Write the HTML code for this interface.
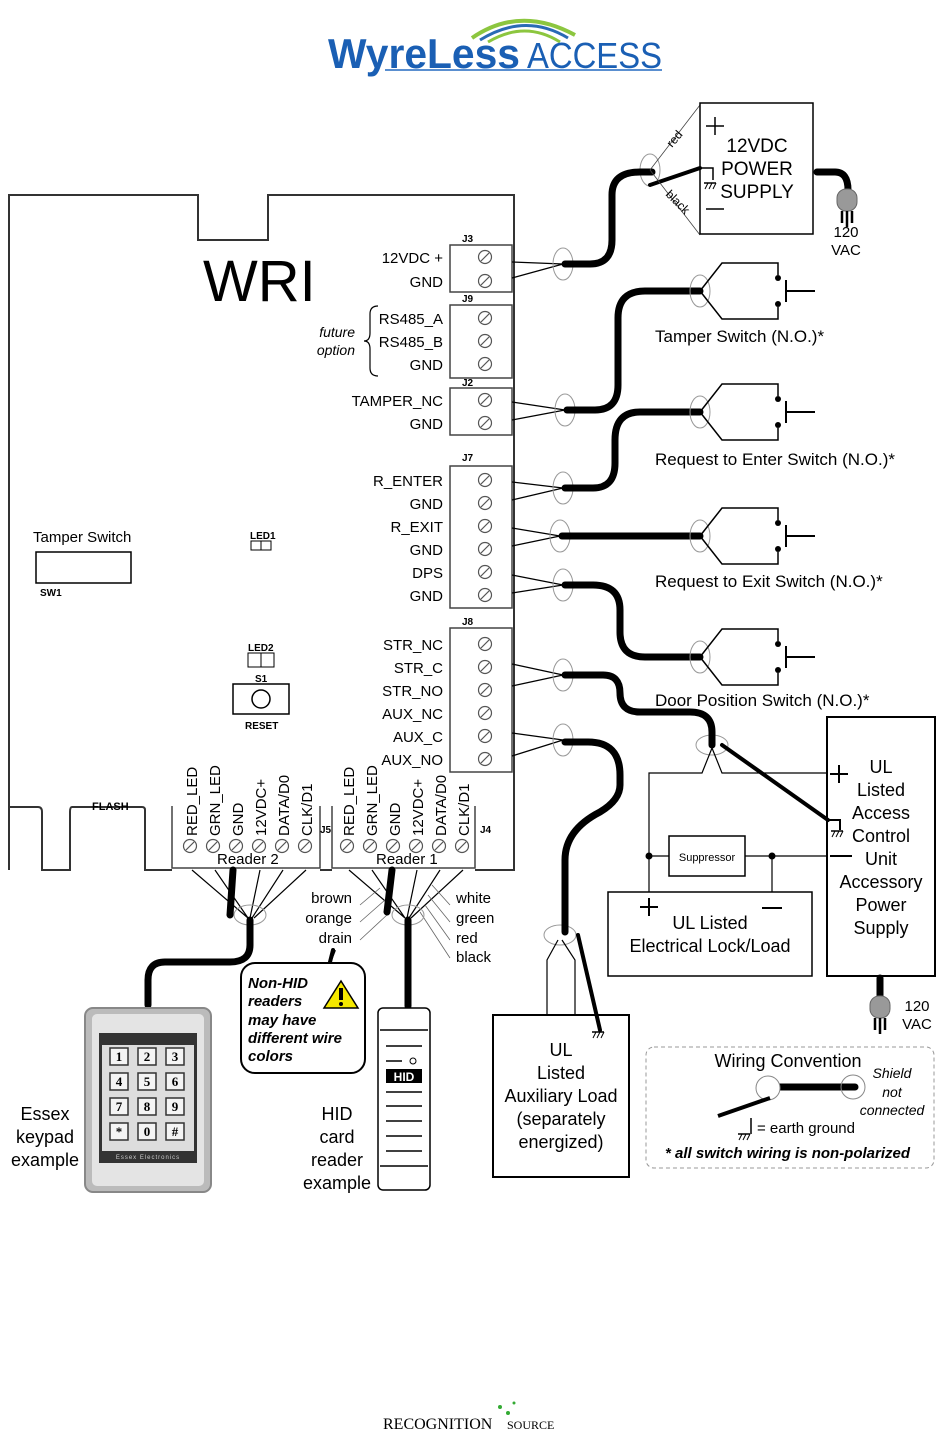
<!DOCTYPE html>
<html><head><meta charset="utf-8"><style>
html,body{margin:0;padding:0;background:#fff}
svg{display:block}
text{font-family:"Liberation Sans",Arial,sans-serif;fill:#000}
</style></head><body>
<svg width="937" height="1433" viewBox="0 0 937 1433" xmlns="http://www.w3.org/2000/svg">
<defs>
<g id="scr"><circle r="6.5" fill="#fff" stroke="#555" stroke-width="1.2"/><line x1="-4" y1="4" x2="4" y2="-4" stroke="#555" stroke-width="1.2"/></g>
<g id="sw">
<ellipse cx="0" cy="0" rx="10" ry="16" fill="none" stroke="#999" stroke-width="1"/>
<polyline points="0,0 22,-28 78,-28 78,-16" fill="none" stroke="#000" stroke-width="1.5"/>
<polyline points="0,0 22,28 78,28 78,16" fill="none" stroke="#000" stroke-width="1.5"/>
<circle cx="78" cy="-13" r="3" fill="#000"/><circle cx="78" cy="13" r="3" fill="#000"/>
<line x1="86" y1="-11" x2="86" y2="11" stroke="#000" stroke-width="2"/>
<line x1="86" y1="0" x2="115" y2="0" stroke="#000" stroke-width="2"/>
</g>
<g id="plug"><rect x="-10" y="-16" width="20" height="22" rx="9" fill="#999" stroke="#666"/><line x1="-5" y1="6" x2="-5" y2="18" stroke="#000" stroke-width="2.5"/><line x1="5" y1="6" x2="5" y2="18" stroke="#000" stroke-width="2.5"/><line x1="0" y1="6" x2="0" y2="22" stroke="#000" stroke-width="2.5"/></g>
<g id="gnd"><line x1="0" y1="0" x2="12" y2="0" stroke="#000" stroke-width="1.5"/><line x1="1" y1="6" x2="4" y2="0" stroke="#000"/><line x1="5" y1="6" x2="8" y2="0" stroke="#000"/><line x1="9" y1="6" x2="12" y2="0" stroke="#000"/></g>
</defs>

<!-- Logo -->
<path d="M472,38 Q520,5 575,35" fill="none" stroke="#8cc63f" stroke-width="4"/>
<path d="M480,40 Q525,12 568,38" fill="none" stroke="#2a6ab5" stroke-width="3"/>
<path d="M488,42 Q525,20 560,42" fill="none" stroke="#8cc63f" stroke-width="3"/>
<text x="328" y="68" font-size="42" font-weight="bold" fill="#1a5fb4" style="fill:#1a5fb4" textLength="192" lengthAdjust="spacingAndGlyphs">WyreLess</text>
<text x="527" y="68" font-size="36" style="fill:#1a5fb4" textLength="135" lengthAdjust="spacingAndGlyphs">ACCESS</text>
<line x1="385" y1="70" x2="662" y2="70" stroke="#5a8fd0" stroke-width="2"/>

<!-- Board -->
<path d="M9,870 V195 H198 V240 H268 V195 H514 V870 H475 M320,870 H332 M172,870 H145 V810 Q145,807 142,807 H72 Q70,807 70,812 V870 H42 V812 Q42,807 38,807 H9" fill="none" stroke="#333" stroke-width="2"/>
<text x="203" y="301" font-size="58">WRI</text>
<text x="33" y="542" font-size="15">Tamper Switch</text>
<rect x="36" y="552" width="95" height="31" fill="none" stroke="#000" stroke-width="1.5"/>
<text x="40" y="596" font-size="10" font-weight="bold">SW1</text>
<text x="250" y="539" font-size="10" font-weight="bold">LED1</text>
<rect x="251" y="541" width="20" height="9" fill="none" stroke="#000"/><line x1="261" y1="541" x2="261" y2="550" stroke="#000"/>
<text x="248" y="651" font-size="10" font-weight="bold">LED2</text>
<rect x="248" y="653" width="26" height="14" fill="none" stroke="#000"/><line x1="261" y1="653" x2="261" y2="667" stroke="#000"/>
<text x="255" y="682" font-size="10" font-weight="bold">S1</text>
<rect x="233" y="684" width="56" height="30" fill="none" stroke="#000" stroke-width="1.5"/>
<circle cx="261" cy="699" r="9" fill="none" stroke="#000" stroke-width="1.5"/>
<text x="245" y="729" font-size="10" font-weight="bold">RESET</text>
<text x="92" y="810" font-size="11" font-weight="bold">FLASH</text>

<!-- Terminal blocks -->
<g stroke="#444" stroke-width="1.5" fill="#fff">
<rect x="450" y="245" width="62" height="47"/>
<rect x="450" y="305" width="62" height="73"/>
<rect x="450" y="388" width="62" height="47"/>
<rect x="450" y="466" width="62" height="142"/>
<rect x="450" y="628" width="62" height="144"/>
</g>
<g font-size="10" font-weight="bold">
<text x="462" y="242">J3</text><text x="462" y="302">J9</text><text x="462" y="386">J2</text><text x="462" y="461">J7</text><text x="462" y="625">J8</text>
</g>
<g>
<use href="#scr" x="485" y="257"/><use href="#scr" x="485" y="281"/>
<use href="#scr" x="485" y="318"/><use href="#scr" x="485" y="341"/><use href="#scr" x="485" y="364"/>
<use href="#scr" x="485" y="400"/><use href="#scr" x="485" y="423"/>
<use href="#scr" x="485" y="480"/><use href="#scr" x="485" y="503"/><use href="#scr" x="485" y="526"/><use href="#scr" x="485" y="549"/><use href="#scr" x="485" y="572"/><use href="#scr" x="485" y="595"/>
<use href="#scr" x="485" y="644"/><use href="#scr" x="485" y="667"/><use href="#scr" x="485" y="690"/><use href="#scr" x="485" y="713"/><use href="#scr" x="485" y="736"/><use href="#scr" x="485" y="759"/>
</g>
<g font-size="15" text-anchor="end">
<text x="443" y="263">12VDC +</text><text x="443" y="287">GND</text>
<text x="443" y="324">RS485_A</text><text x="443" y="347">RS485_B</text><text x="443" y="370">GND</text>
<text x="443" y="406">TAMPER_NC</text><text x="443" y="429">GND</text>
<text x="443" y="486">R_ENTER</text><text x="443" y="509">GND</text><text x="443" y="532">R_EXIT</text><text x="443" y="555">GND</text><text x="443" y="578">DPS</text><text x="443" y="601">GND</text>
<text x="443" y="650">STR_NC</text><text x="443" y="673">STR_C</text><text x="443" y="696">STR_NO</text><text x="443" y="719">AUX_NC</text><text x="443" y="742">AUX_C</text><text x="443" y="765">AUX_NO</text>
</g>
<path d="M378,306 Q370,306 370,314 V333 Q370,341 364,341 Q370,341 370,349 V368 Q370,376 378,376" fill="none" stroke="#000" stroke-width="1.2"/>
<text x="355" y="337" font-size="14" font-style="italic" text-anchor="end">future</text>
<text x="355" y="355" font-size="14" font-style="italic" text-anchor="end">option</text>

<!-- Reader connectors -->
<path d="M172,806 V868 H320 V806" fill="none" stroke="#444" stroke-width="1.5"/>
<path d="M332,806 V868 H475 V806" fill="none" stroke="#444" stroke-width="1.5"/>
<g font-size="15">
<g transform="translate(197,836) rotate(-90)"><text>RED_LED</text></g>
<g transform="translate(220,836) rotate(-90)"><text>GRN_LED</text></g>
<g transform="translate(243,836) rotate(-90)"><text>GND</text></g>
<g transform="translate(266,836) rotate(-90)"><text>12VDC+</text></g>
<g transform="translate(289,836) rotate(-90)"><text>DATA/D0</text></g>
<g transform="translate(312,836) rotate(-90)"><text>CLK/D1</text></g>
<g transform="translate(354,836) rotate(-90)"><text>RED_LED</text></g>
<g transform="translate(377,836) rotate(-90)"><text>GRN_LED</text></g>
<g transform="translate(400,836) rotate(-90)"><text>GND</text></g>
<g transform="translate(423,836) rotate(-90)"><text>12VDC+</text></g>
<g transform="translate(446,836) rotate(-90)"><text>DATA/D0</text></g>
<g transform="translate(469,836) rotate(-90)"><text>CLK/D1</text></g>
</g>
<text x="320" y="833" font-size="10" font-weight="bold">J5</text>
<text x="480" y="833" font-size="10" font-weight="bold">J4</text>
<g>
<use href="#scr" x="190" y="846"/><use href="#scr" x="213" y="846"/><use href="#scr" x="236" y="846"/><use href="#scr" x="259" y="846"/><use href="#scr" x="282" y="846"/><use href="#scr" x="305" y="846"/>
<use href="#scr" x="347" y="846"/><use href="#scr" x="370" y="846"/><use href="#scr" x="393" y="846"/><use href="#scr" x="416" y="846"/><use href="#scr" x="439" y="846"/><use href="#scr" x="462" y="846"/>
</g>
<text x="217" y="864" font-size="15">Reader 2</text>
<text x="376" y="864" font-size="15">Reader 1</text>

<!-- thin wires from terminals -->
<g stroke="#000" stroke-width="1.2" fill="none">
<path d="M512,262 L563,264 M512,278 L563,264"/>
<path d="M512,402 L565,410 M512,420 L565,410"/>
<path d="M512,482 L563,488 M512,500 L563,488"/>
<path d="M512,528 L560,536 M512,546 L560,536"/>
<path d="M512,575 L563,585 M512,593 L563,585"/>
<path d="M512,664 L563,675 M512,686 L563,675"/>
<path d="M512,733 L563,740 M512,756 L563,740"/>
<path d="M192,870 L248,918 M215,870 L248,918 M260,870 L250,918 M283,870 L252,918 M306,870 L254,918"/>
<path d="M349,870 L405,918 M372,870 L405,918 M417,870 L407,918 M440,870 L409,918 M463,870 L411,918"/>
</g>
<g stroke="#666" stroke-width="0.8" fill="none">
<path d="M360,905 L380,888 M360,922 L385,900 M360,940 L388,914"/>
<path d="M450,905 L432,885 M450,922 L428,895 M450,940 L425,905 M450,958 L420,912"/>
</g>
<g fill="none" stroke="#999" stroke-width="1">
<ellipse cx="563" cy="264" rx="10" ry="16"/>
<ellipse cx="565" cy="410" rx="10" ry="16"/>
<ellipse cx="563" cy="488" rx="10" ry="16"/>
<ellipse cx="560" cy="536" rx="10" ry="16"/>
<ellipse cx="563" cy="585" rx="10" ry="16"/>
<ellipse cx="563" cy="675" rx="10" ry="16"/>
<ellipse cx="563" cy="740" rx="10" ry="16"/>
<ellipse cx="250" cy="915" rx="16" ry="10"/>
<ellipse cx="408" cy="915" rx="16" ry="10"/>
<ellipse cx="560" cy="935" rx="16" ry="10"/>
<ellipse cx="650" cy="170" rx="10" ry="16"/>
<ellipse cx="712" cy="745" rx="16" ry="10"/>
</g>

<!-- thick cables -->
<g stroke="#000" stroke-width="7" fill="none" stroke-linecap="round">
<path d="M565,264 H590 Q612,264 612,240 V195 Q612,172 640,172 H652"/>
<path d="M567,410 H595 Q618,410 618,385 V318 Q618,291 645,291 H700"/>
<path d="M565,488 H593 Q615,488 615,463 V440 Q615,412 640,412 H700"/>
<path d="M562,536 H700"/>
<path d="M565,585 H593 Q620,585 620,610 V632 Q620,657 645,657 H700"/>
<path d="M565,675 H603 Q620,675 620,693 Q620,712 640,712 H690 Q712,712 712,732 V745"/>
<path d="M565,742 H588 Q620,742 620,775 V785 Q620,800 600,812 Q565,830 565,860 V932"/>
<path d="M250,920 V945 Q250,962 230,962 H165 Q148,962 148,980 V1005"/>
<path d="M233,870 L230,915"/>
<path d="M408,920 V1006"/>
<path d="M392,870 L387,912"/>
<path d="M817,172 H835 Q848,172 848,190"/>
<path d="M880,978 V1000"/>
</g>
<g stroke="#000" stroke-width="4" fill="none" stroke-linecap="round">
<path d="M650,185 L700,168"/>
<path d="M722,745 L828,820"/>
<path d="M578,935 L600,1030"/>
<path d="M248,950 L248,950"/>
<path d="M330,962 L333,950"/>
</g>
<g stroke="#444" stroke-width="0.8" fill="none">
<path d="M650,170 L700,105 M650,170 L700,235"/>
</g>
<text x="672" y="148" font-size="12" transform="rotate(-50 672 148)">red</text>
<text x="665" y="195" font-size="12" transform="rotate(45 665 195)">black</text>

<!-- switches -->
<use href="#sw" x="700" y="291"/>
<use href="#sw" x="700" y="412"/>
<use href="#sw" x="700" y="536"/>
<use href="#sw" x="700" y="657"/>
<g font-size="17">
<text x="655" y="342">Tamper Switch (N.O.)*</text>
<text x="655" y="465">Request to Enter Switch (N.O.)*</text>
<text x="655" y="587">Request to Exit Switch (N.O.)*</text>
<text x="655" y="706">Door Position Switch (N.O.)*</text>
</g>

<!-- Power supply -->
<rect x="700" y="103" width="113" height="131" fill="none" stroke="#000" stroke-width="1.5"/>
<path d="M706,126 H724 M715,117 V135" stroke="#000" stroke-width="1.5"/>
<path d="M706,209 H724" stroke="#000" stroke-width="1.5"/>
<path d="M700,168 H713 V180" stroke="#000" stroke-width="1.5" fill="none"/>
<use href="#gnd" x="704" y="183"/>
<g font-size="19" text-anchor="middle"><text x="757" y="152">12VDC</text><text x="757" y="175">POWER</text><text x="757" y="198">SUPPLY</text></g>
<use href="#plug" x="847" y="205"/>
<text x="846" y="237" font-size="15" text-anchor="middle">120</text>
<text x="846" y="255" font-size="15" text-anchor="middle">VAC</text>

<!-- Lock / ACU wiring -->
<g stroke="#000" stroke-width="1.2" fill="none">
<path d="M712,748 L702,773 H649 V892"/>
<path d="M712,748 L722,773 H828"/>
<path d="M649,856 H669 M745,856 H828 M772,856 V892"/>
</g>
<circle cx="649" cy="856" r="3.5"/><circle cx="772" cy="856" r="3.5"/>
<rect x="669" y="836" width="76" height="40" fill="#fff" stroke="#000" stroke-width="1.5"/>
<text x="707" y="861" font-size="11" text-anchor="middle">Suppressor</text>
<rect x="608" y="892" width="204" height="84" fill="#fff" stroke="#000" stroke-width="1.5"/>
<path d="M640,907 H658 M649,898 V916 M762,908 H782" stroke="#000" stroke-width="2"/>
<text x="710" y="929" font-size="18" text-anchor="middle">UL Listed</text>
<text x="710" y="952" font-size="18" text-anchor="middle">Electrical Lock/Load</text>
<rect x="827" y="717" width="108" height="259" fill="none" stroke="#000" stroke-width="2"/>
<path d="M830,774 H848 M839,765 V783 M830,856 H852" stroke="#000" stroke-width="2"/>
<path d="M828,820 H840 V830" stroke="#000" stroke-width="2" fill="none"/>
<use href="#gnd" x="831" y="831"/>
<g font-size="18" text-anchor="middle">
<text x="881" y="773">UL</text><text x="881" y="796">Listed</text><text x="881" y="819">Access</text><text x="881" y="842">Control</text><text x="881" y="865">Unit</text><text x="881" y="888">Accessory</text><text x="881" y="911">Power</text><text x="881" y="934">Supply</text>
</g>
<use href="#plug" x="880" y="1012"/>
<text x="917" y="1011" font-size="15" text-anchor="middle">120</text>
<text x="917" y="1029" font-size="15" text-anchor="middle">VAC</text>

<!-- Aux load -->
<g stroke="#000" stroke-width="1.2" fill="none">
<path d="M558,940 L547,960 V1015 M562,940 L575,960 V1015"/>
</g>
<rect x="493" y="1015" width="136" height="162" fill="none" stroke="#000" stroke-width="2"/>
<use href="#gnd" x="592" y="1032"/>
<g font-size="18" text-anchor="middle">
<text x="561" y="1056">UL</text><text x="561" y="1079">Listed</text><text x="561" y="1102">Auxiliary Load</text><text x="561" y="1125">(separately</text><text x="561" y="1148">energized)</text>
</g>

<!-- Wiring convention -->
<rect x="646" y="1047" width="288" height="121" rx="8" fill="none" stroke="#999" stroke-dasharray="4,3"/>
<text x="788" y="1067" font-size="18" text-anchor="middle">Wiring Convention</text>
<line x1="768" y1="1087" x2="855" y2="1087" stroke="#000" stroke-width="7" stroke-linecap="round"/>
<circle cx="768" cy="1088" r="12" fill="#fff" stroke="#888"/>
<circle cx="853" cy="1087" r="12" fill="none" stroke="#888"/>
<line x1="718" y1="1116" x2="770" y2="1098" stroke="#000" stroke-width="4"/>
<line x1="751" y1="1118" x2="751" y2="1134" stroke="#000" stroke-width="1.5"/>
<use href="#gnd" x="738" y="1134"/>
<text x="757" y="1133" font-size="15">= earth ground</text>
<g font-size="14" font-style="italic" text-anchor="middle"><text x="892" y="1078">Shield</text><text x="892" y="1097">not</text><text x="892" y="1115">connected</text></g>
<text x="665" y="1158" font-size="15" font-style="italic" font-weight="bold">* all switch wiring is non-polarized</text>

<!-- Reader wire colours -->
<g font-size="15" text-anchor="end"><text x="352" y="903">brown</text><text x="352" y="923">orange</text><text x="352" y="943">drain</text></g>
<g font-size="15"><text x="456" y="903">white</text><text x="456" y="923">green</text><text x="456" y="943">red</text><text x="456" y="962">black</text></g>
<line x1="335" y1="950" x2="330" y2="963" stroke="#000" stroke-width="2"/>
<rect x="241" y="963" width="124" height="110" rx="14" fill="#fff" stroke="#000" stroke-width="2"/>
<g font-size="15" font-style="italic" font-weight="bold"><text x="248" y="988">Non-HID</text><text x="248" y="1006">readers</text><text x="248" y="1025">may have</text><text x="248" y="1043">different wire</text><text x="248" y="1061">colors</text></g>
<path d="M341,981 L358,1008 H324 Z" fill="#f5e800" stroke="#000" stroke-width="1.5"/>
<rect x="339" y="988" width="4" height="12" fill="#000"/><circle cx="341" cy="1004" r="2" fill="#000"/>

<!-- Keypad -->
<rect x="85" y="1008" width="126" height="184" rx="8" fill="#bbb" stroke="#888" stroke-width="2"/>
<rect x="92" y="1014" width="112" height="172" rx="5" fill="#e4e4e4"/>
<rect x="99" y="1033" width="98" height="130" fill="#333"/>
<rect x="102" y="1045" width="92" height="106" fill="#ddd"/>
<g font-family="Liberation Serif" font-size="13" font-weight="bold" text-anchor="middle">
<g fill="#f4f4f4" stroke="#333" stroke-width="1.5">
<rect x="110" y="1048" width="18" height="17"/><rect x="138" y="1048" width="18" height="17"/><rect x="166" y="1048" width="18" height="17"/>
<rect x="110" y="1073" width="18" height="17"/><rect x="138" y="1073" width="18" height="17"/><rect x="166" y="1073" width="18" height="17"/>
<rect x="110" y="1098" width="18" height="17"/><rect x="138" y="1098" width="18" height="17"/><rect x="166" y="1098" width="18" height="17"/>
<rect x="110" y="1123" width="18" height="17"/><rect x="138" y="1123" width="18" height="17"/><rect x="166" y="1123" width="18" height="17"/>
</g>
<text x="119" y="1061" style="font-family:'Liberation Serif'">1</text><text x="147" y="1061" style="font-family:'Liberation Serif'">2</text><text x="175" y="1061" style="font-family:'Liberation Serif'">3</text>
<text x="119" y="1086" style="font-family:'Liberation Serif'">4</text><text x="147" y="1086" style="font-family:'Liberation Serif'">5</text><text x="175" y="1086" style="font-family:'Liberation Serif'">6</text>
<text x="119" y="1111" style="font-family:'Liberation Serif'">7</text><text x="147" y="1111" style="font-family:'Liberation Serif'">8</text><text x="175" y="1111" style="font-family:'Liberation Serif'">9</text>
<text x="119" y="1136" style="font-family:'Liberation Serif'">*</text><text x="147" y="1136" style="font-family:'Liberation Serif'">0</text><text x="175" y="1136" style="font-family:'Liberation Serif'">#</text>
</g>
<text x="148" y="1159" font-size="6" text-anchor="middle" style="fill:#ccc" letter-spacing="1">Essex Electronics</text>
<g font-size="18" text-anchor="middle"><text x="45" y="1120">Essex</text><text x="45" y="1143">keypad</text><text x="45" y="1166">example</text></g>

<!-- HID reader -->
<rect x="378" y="1008" width="52" height="182" rx="5" fill="#fff" stroke="#000" stroke-width="1.5"/>
<g stroke="#000" stroke-width="1.5">
<line x1="380" y1="1030" x2="428" y2="1030"/>
<line x1="386" y1="1046" x2="422" y2="1046"/>
<line x1="386" y1="1061" x2="402" y2="1061"/>
<line x1="386" y1="1092" x2="422" y2="1092"/><line x1="386" y1="1106" x2="422" y2="1106"/><line x1="386" y1="1121" x2="422" y2="1121"/><line x1="386" y1="1136" x2="422" y2="1136"/><line x1="386" y1="1151" x2="422" y2="1151"/>
<line x1="380" y1="1166" x2="428" y2="1166"/>
</g>
<circle cx="413" cy="1061" r="3" fill="none" stroke="#000"/>
<rect x="386" y="1069" width="36" height="14" fill="#000"/>
<text x="404" y="1081" font-size="12" font-weight="bold" text-anchor="middle" style="fill:#fff">HID</text>
<g font-size="18" text-anchor="middle"><text x="337" y="1120">HID</text><text x="337" y="1143">card</text><text x="337" y="1166">reader</text><text x="337" y="1189">example</text></g>

<!-- footer -->
<circle cx="500" cy="1407" r="2" fill="#3a3"/><circle cx="508" cy="1413" r="2" fill="#3a3"/><circle cx="514" cy="1403" r="1.5" fill="#3a3"/>
<text x="383" y="1429" font-size="16" style="font-family:'Liberation Serif'">RECOGNITION</text>
<text x="507" y="1429" font-size="12" style="font-family:'Liberation Serif'">SOURCE</text>
</svg>
</body></html>
